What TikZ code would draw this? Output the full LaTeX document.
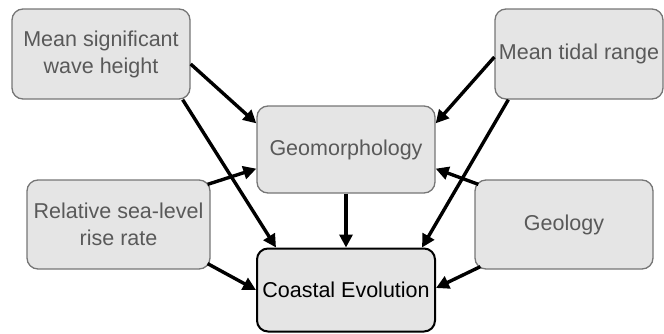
\documentclass[tikz,border=0pt]{standalone}
\usepackage{fontspec}
\setmainfont{Liberation Sans}
\usetikzlibrary{arrows.meta,calc}
\definecolor{boxfill}{RGB}{229,229,229}
\definecolor{boxline}{RGB}{118,118,118}
\definecolor{boxtext}{RGB}{89,89,89}
\begin{document}
\begin{tikzpicture}[x=1pt,y=-1pt,
  box/.style={draw=boxline,line width=1.3pt,fill=boxfill,rounded corners=11pt,
    text=boxtext,align=center,inner sep=1pt,font=\fontsize{21.5}{27}\selectfont},
  mainbox/.style={box,draw=black,line width=2pt,text=black},
  arr/.style={line width=3.4pt,-{Triangle[length=13pt,width=13pt]}}]
\useasboundingbox (0,0) rectangle (664,333);
\node[box,minimum width=178pt,minimum height=90pt] (wave) at (101,54) {Mean significant\\wave height};
\node[box,minimum width=168pt,minimum height=90pt] (tide) at (579,54) {Mean tidal range};
\node[box,minimum width=178pt,minimum height=87pt] (geo) at (346,149.5) {Geomorphology};
\node[box,minimum width=183pt,minimum height=89pt] (rsl) at (118.5,224.5) {Relative sea-level\\rise rate};
\node[box,minimum width=178pt,minimum height=89pt] (geol) at (564,224.5) {Geology};
\node[mainbox,minimum width=178pt,minimum height=83pt] (coast) at (346,290) {Coastal Evolution};
\draw[arr] ($(wave.east)+(0,10)$) -- ($(geo.north west)+(0,18)$);
\draw[arr] ($(wave.south east)+(-8,0)$) -- ($(coast.north west)+(20,0)$);
\draw[arr] ($(tide.west)+(0,3)$) -- ($(geo.north east)+(0,18)$);
\draw[arr] ($(tide.south west)+(14,0)$) -- ($(coast.north east)+(-14,0)$);
\draw[arr] ($(rsl.north east)+(-3,5)$) -- ($(geo.south west)+(0,-25)$);
\draw[arr] ($(rsl.south east)+(-3,-6)$) -- (coast.west);
\draw[arr] ($(geol.north west)+(4,5)$) -- ($(geo.south east)+(0,-25)$);
\draw[arr] ($(geol.south west)+(6,-3)$) -- ($(coast.east)+(0,-2)$);
\draw[arr] (geo.south) -- (coast.north);
\end{tikzpicture}
\end{document}
